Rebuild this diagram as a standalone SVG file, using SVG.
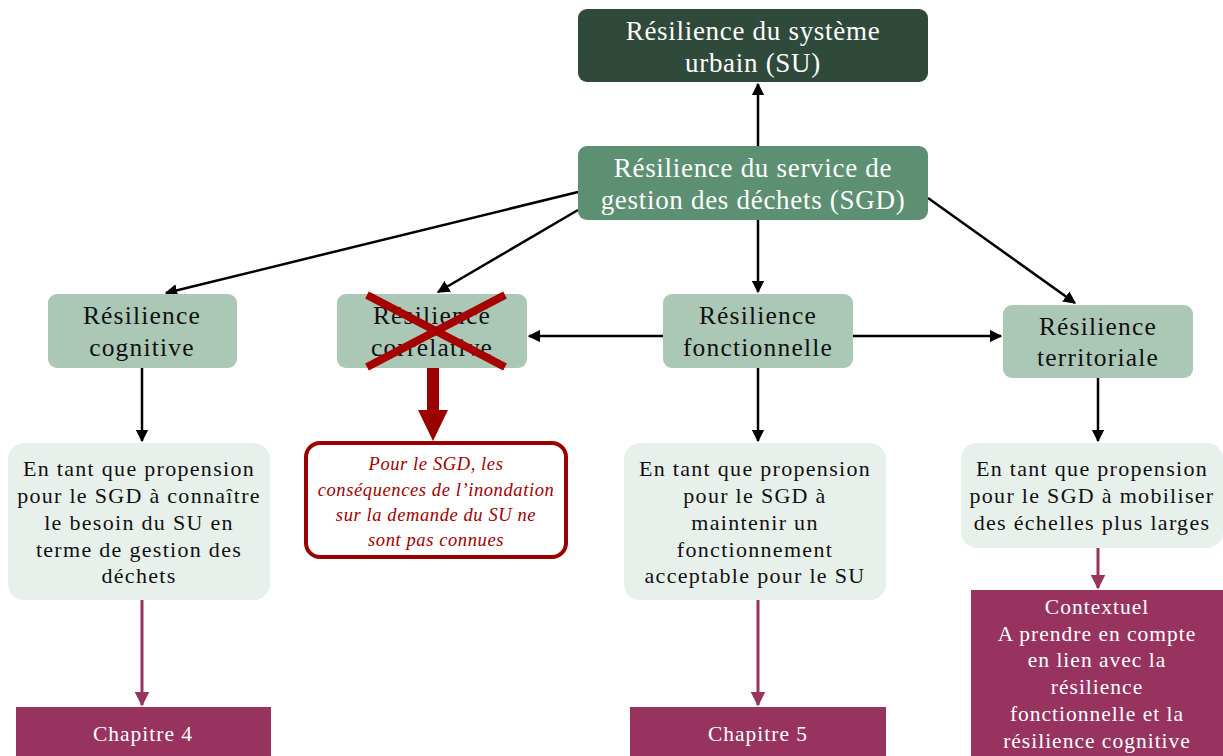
<svg xmlns="http://www.w3.org/2000/svg" width="1223" height="756" viewBox="0 0 1223 756">
<style>
text{font-family:"Liberation Serif","DejaVu Serif",serif;text-anchor:middle}
.w{fill:#ffffff}
.k{fill:#111111}
.t1{font-size:27px;letter-spacing:0.7px}
.t2{font-size:25.5px;letter-spacing:1.2px}
.t3{font-size:22px;letter-spacing:1.3px}
.t4{font-size:18.5px;letter-spacing:0.6px;font-style:italic;fill:#a00000}
.t5{font-size:21.5px;letter-spacing:1px;fill:#ffffff}
.ln{stroke:#000;stroke-width:2.5;fill:none}
.pl{stroke:#98335f;stroke-width:3;fill:none}
</style>
<defs>
<marker id="ab" viewBox="0 0 10 10" refX="9" refY="5" markerWidth="5" markerHeight="5" orient="auto" markerUnits="strokeWidth"><path d="M0,0 L10,5 L0,10 Z" fill="#000"/></marker>
<marker id="ap" viewBox="0 0 10 10" refX="9" refY="5" markerWidth="5" markerHeight="5" orient="auto" markerUnits="strokeWidth"><path d="M0,0 L10,5 L0,10 Z" fill="#98335f"/></marker>
</defs>
<rect width="1223" height="756" fill="#ffffff"/>
<g id="connectors">
<line class="ln" x1="758" y1="146" x2="758" y2="84" marker-end="url(#ab)"/>
<line class="ln" x1="578" y1="192" x2="166" y2="293" marker-end="url(#ab)"/>
<line class="ln" x1="578" y1="210" x2="438" y2="292" marker-end="url(#ab)"/>
<line class="ln" x1="758" y1="220" x2="758" y2="292" marker-end="url(#ab)"/>
<line class="ln" x1="928" y1="198" x2="1075" y2="303" marker-end="url(#ab)"/>
<line class="ln" x1="663" y1="336" x2="529" y2="336" marker-end="url(#ab)"/>
<line class="ln" x1="853" y1="336" x2="1001" y2="336" marker-end="url(#ab)"/>
<line class="ln" x1="142" y1="368" x2="142" y2="441" marker-end="url(#ab)"/>
<line class="ln" x1="758" y1="368" x2="758" y2="441" marker-end="url(#ab)"/>
<line class="ln" x1="1098" y1="378" x2="1098" y2="441" marker-end="url(#ab)"/>
<line class="pl" x1="142" y1="600" x2="142" y2="705" marker-end="url(#ap)"/>
<line class="pl" x1="758" y1="600" x2="758" y2="705" marker-end="url(#ap)"/>
<line class="pl" x1="1098" y1="548" x2="1098" y2="588" marker-end="url(#ap)"/>
<path d="M427,368 L439,368 L439,410 L448,410 L433,441 L418,410 L427,410 Z" fill="#9b0000"/>
</g>
<g id="n-su">
<rect x="578" y="9" width="350" height="73" rx="9" fill="#2f4a3a"/>
<text class="t1 w" x="753" y="40">Résilience du système</text>
<text class="t1 w" x="753" y="72">urbain (SU)</text>
</g>
<g id="n-sgd">
<rect x="578" y="146" width="350" height="74" rx="9" fill="#5d9073"/>
<text class="t1 w" x="753" y="177">Résilience du service de</text>
<text class="t1 w" x="753" y="209">gestion des déchets (SGD)</text>
</g>
<g id="n-cog">
<rect x="48" y="294" width="189" height="74" rx="9" fill="#abc7b6"/>
<text class="t2 k" x="142" y="324">Résilience</text>
<text class="t2 k" x="142" y="356">cognitive</text>
</g>
<g id="n-cor">
<rect x="337" y="294" width="190" height="74" rx="9" fill="#abc7b6"/>
<text class="t2 k" x="432" y="324">Résilience</text>
<text class="t2 k" x="432" y="356">corrélative</text>
<line x1="367" y1="295" x2="505" y2="367" stroke="#a60000" stroke-width="8"/>
<line x1="367" y1="367" x2="505" y2="295" stroke="#a60000" stroke-width="8"/>
</g>
<g id="n-fon">
<rect x="663" y="294" width="190" height="74" rx="9" fill="#abc7b6"/>
<text class="t2 k" x="758" y="324">Résilience</text>
<text class="t2 k" x="758" y="356">fonctionnelle</text>
</g>
<g id="n-ter">
<rect x="1003" y="305" width="190" height="73" rx="9" fill="#abc7b6"/>
<text class="t2 k" x="1098" y="335">Résilience</text>
<text class="t2 k" x="1098" y="366">territoriale</text>
</g>
<g id="d-cog">
<rect x="8" y="443" width="262" height="157" rx="16" fill="#e8f0eb"/>
<text class="t3 k" x="139" y="476">En tant que propension</text>
<text class="t3 k" x="139" y="503">pour le SGD à connaître</text>
<text class="t3 k" x="139" y="530">le besoin du SU en</text>
<text class="t3 k" x="139" y="557">terme de gestion des</text>
<text class="t3 k" x="139" y="583">déchets</text>
</g>
<g id="d-cor">
<rect x="306" y="443" width="260" height="114" rx="14" fill="#ffffff" stroke="#9b0000" stroke-width="4"/>
<text class="t4" x="436" y="470">Pour le SGD, les</text>
<text class="t4" x="436" y="496">conséquences de l’inondation</text>
<text class="t4" x="436" y="521">sur la demande du SU ne</text>
<text class="t4" x="436" y="546">sont pas connues</text>
</g>
<g id="d-fon">
<rect x="624" y="443" width="262" height="157" rx="16" fill="#e8f0eb"/>
<text class="t3 k" x="755" y="476">En tant que propension</text>
<text class="t3 k" x="755" y="503">pour le SGD à</text>
<text class="t3 k" x="755" y="530">maintenir un</text>
<text class="t3 k" x="755" y="557">fonctionnement</text>
<text class="t3 k" x="755" y="583">acceptable pour le SU</text>
</g>
<g id="d-ter">
<rect x="961" y="443" width="262" height="105" rx="16" fill="#e8f0eb"/>
<text class="t3 k" x="1092" y="476">En tant que propension</text>
<text class="t3 k" x="1092" y="503">pour le SGD à mobiliser</text>
<text class="t3 k" x="1092" y="530">des échelles plus larges</text>
</g>
<g id="c4">
<rect x="16" y="707" width="255" height="49" fill="#98335f"/>
<text class="t5" x="143" y="741">Chapitre 4</text>
</g>
<g id="c5">
<rect x="630" y="707" width="256" height="49" fill="#98335f"/>
<text class="t5" x="758" y="741">Chapitre 5</text>
</g>
<g id="ctx">
<rect x="971" y="590" width="252" height="166" fill="#98335f"/>
<text class="t5" x="1097" y="614">Contextuel</text>
<text class="t5" x="1097" y="641">A prendre en compte</text>
<text class="t5" x="1097" y="667">en lien avec la</text>
<text class="t5" x="1097" y="694">résilience</text>
<text class="t5" x="1097" y="721">fonctionnelle et la</text>
<text class="t5" x="1097" y="748">résilience cognitive</text>
</g>
</svg>
